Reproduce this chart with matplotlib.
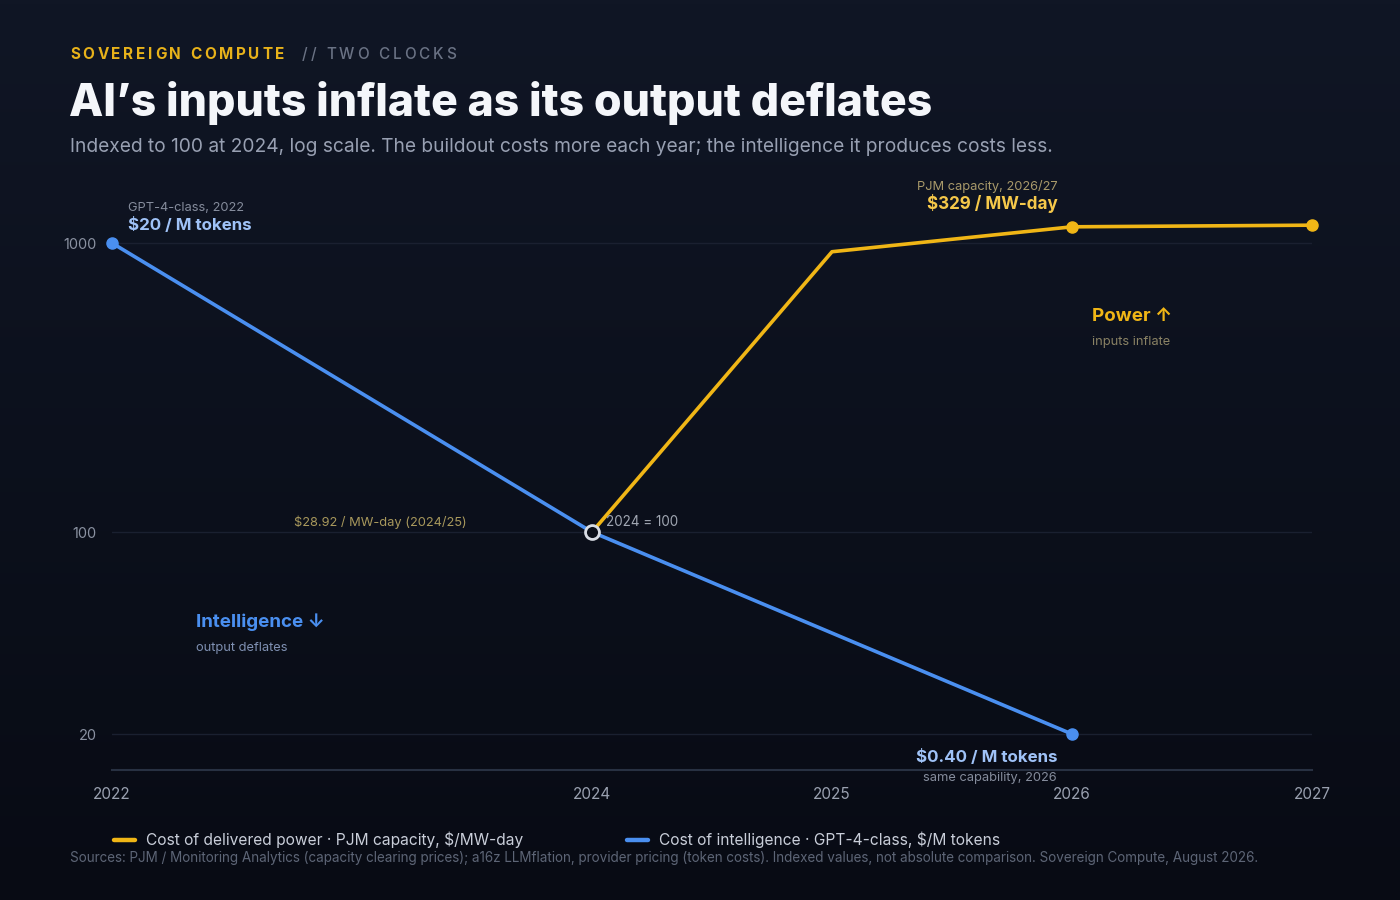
import matplotlib
matplotlib.use('Agg')
import matplotlib.pyplot as plt
import numpy as np
from matplotlib.colors import LinearSegmentedColormap
from matplotlib.lines import Line2D
from matplotlib.ticker import NullLocator

# ---------------- data ----------------
power_years = [2024, 2025, 2026, 2027]
power_index = [100, 933, 1138, 1153]          # PJM capacity price, indexed 2024 = 100
intel_years = [2022, 2024, 2026]
intel_index = [1000, 100, 20]                  # GPT-4-class $/M tokens, indexed 2024 = 100
x_ticks = [2022, 2024, 2025, 2026, 2027]
x_tick_labels = ['2022', '2024', '2025', '2026', '2027']
y_ticks = [20, 100, 1000]
y_tick_labels = ['20', '100', '1000']
legend_labels = ['Cost of delivered power · PJM capacity, $/MW-day',
                 'Cost of intelligence · GPT-4-class, $/M tokens']

# ---------------- style ----------------
W, H = 1400, 900
BG = '#0a0e18'
YEL = '#f0b616'
BLUE = '#4a8ff0'
FONT = ['Inter', 'DejaVu Sans']
plt.rcParams['font.family'] = FONT

fig = plt.figure(figsize=(14, 9), dpi=100)
fig.patch.set_facecolor(BG)

bg_ax = fig.add_axes([0, 0, 1, 1], zorder=-10)
grad = np.linspace(0, 1, 256).reshape(-1, 1)
cm = LinearSegmentedColormap.from_list('bg', ['#101625', '#080b14'])
bg_ax.imshow(grad, aspect='auto', cmap=cm, extent=[0, 1, 0, 1])
bg_ax.axis('off')


def P(x, y):
    return x / W, 1 - y / H


def txt(x, y, s, size, color, weight='normal', ha='left'):
    return fig.text(*P(x, y), s, fontsize=size, color=color, fontweight=weight,
                    ha=ha, va='baseline', family=FONT)


def spaced(x, y, s, size, color, weight='normal', track=3.0):
    r = fig.canvas.get_renderer()
    for ch in s:
        if ch == ' ':
            x += size * 1.389 * 0.28 + track
            continue
        t = fig.text(*P(x, y), ch, fontsize=size, color=color, fontweight=weight,
                     ha='left', va='baseline', family=FONT)
        x += t.get_window_extent(renderer=r).width + track
    return x


# ---------------- axes ----------------
ax = fig.add_axes([112 / W, 1 - 770 / H, 1200 / W, 570 / H])
ax.set_facecolor('none')
ax.set_yscale('log')
ax.set_xlim(2022, 2027)
ax.set_ylim(15.02, 1409)
ax.yaxis.set_minor_locator(NullLocator())
ax.set_yticks(y_ticks)
ax.set_yticklabels(y_tick_labels)
ax.set_xticks(x_ticks)
ax.set_xticklabels(x_tick_labels)
ax.tick_params(axis='y', length=0, pad=11, labelsize=10.5, labelcolor='#8a91a1')
ax.tick_params(axis='x', length=0, pad=12, labelsize=11, labelcolor='#9aa1b0')
for lab in ax.get_xticklabels() + ax.get_yticklabels():
    lab.set_family(FONT)
ax.grid(axis='y', color='#1a2030', lw=1)
ax.grid(axis='x', visible=False)
for s in ['top', 'right', 'left']:
    ax.spines[s].set_visible(False)
ax.spines['bottom'].set_color('#283142')
ax.spines['bottom'].set_linewidth(1.5)

ax.plot(intel_years, intel_index, color=BLUE, lw=2.6, clip_on=False, zorder=3,
        solid_capstyle='round', solid_joinstyle='round')
ax.plot(power_years, power_index, color=YEL, lw=2.6, clip_on=False, zorder=4,
        solid_capstyle='round', solid_joinstyle='round')
ax.plot([intel_years[0], intel_years[-1]], [intel_index[0], intel_index[-1]], 'o',
        color=BLUE, ms=8, clip_on=False, zorder=5)
ax.plot(power_years[2:], power_index[2:], 'o', color=YEL, ms=8, clip_on=False, zorder=5)
ax.plot([intel_years[1]], [intel_index[1]], 'o', ms=10, mfc='#0b0f19', mec='#d8dce4',
        mew=2, clip_on=False, zorder=6)

# ---------------- header ----------------
spaced(70, 59, 'SOVEREIGN COMPUTE', 11, '#e8b21a', weight='bold', track=2.7)
spaced(302, 59, '// TWO CLOCKS', 11, '#6a7284', weight='medium', track=2.8)
txt(69, 116, 'AI’s inputs inflate as its output deflates', 32.1, '#f4f6fa', weight='heavy')
txt(70, 152, 'Indexed to 100 at 2024, log scale. The buildout costs more each year; '
    'the intelligence it produces costs less.', 13.8, '#98a0b2')

# ---------------- annotations ----------------
SM = 9.25
txt(128, 211, 'GPT-4-class, 2022', SM, '#858c9c')
txt(128, 230, '$20 / M tokens', 12.2, '#9fc2f7', weight='bold')
txt(1058, 190, 'PJM capacity, 2026/27', SM, '#a8996a', ha='right')
txt(1058, 209, '$329 / MW-day', 12.25, '#f5c84a', weight='bold', ha='right')
txt(1092, 321, 'Power ↑', 13.5, YEL, weight='bold')
txt(1092, 345, 'inputs inflate', SM, '#8a8264')
txt(467, 526, '$28.92 / MW-day (2024/25)', SM, '#a8985c', ha='right')
txt(606, 526, '2024 = 100', 9.7, '#a0a6b2')
txt(196, 627, 'Intelligence ↓', 13.5, BLUE, weight='bold')
txt(196, 651, 'output deflates', SM, '#7f90b2')
txt(1057, 762, '$0.40 / M tokens', 12.2, '#9fc2f7', weight='bold', ha='right')
txt(1057, 781, 'same capability, 2026', SM, '#858c9c', ha='right')

# ---------------- legend ----------------
handles = [Line2D([], [], color=YEL, lw=3.2, solid_capstyle='round'),
           Line2D([], [], color=BLUE, lw=3.2, solid_capstyle='round')]
fig.legend(handles, legend_labels, loc='center left', bbox_to_anchor=P(114, 840),
           ncol=2, frameon=False, labelcolor='#c9ced9',
           handlelength=1.35, handletextpad=0.7, columnspacing=6.7,
           borderpad=0, borderaxespad=0, prop={'family': FONT, 'size': 11.2})

txt(70, 862, 'Sources: PJM / Monitoring Analytics (capacity clearing prices); a16z LLMflation, '
    'provider pricing (token costs). Indexed values, not absolute comparison. '
    'Sovereign Compute, August 2026.', 9.72, '#5d6576')

fig.savefig('out.png', dpi=100, facecolor=BG)
